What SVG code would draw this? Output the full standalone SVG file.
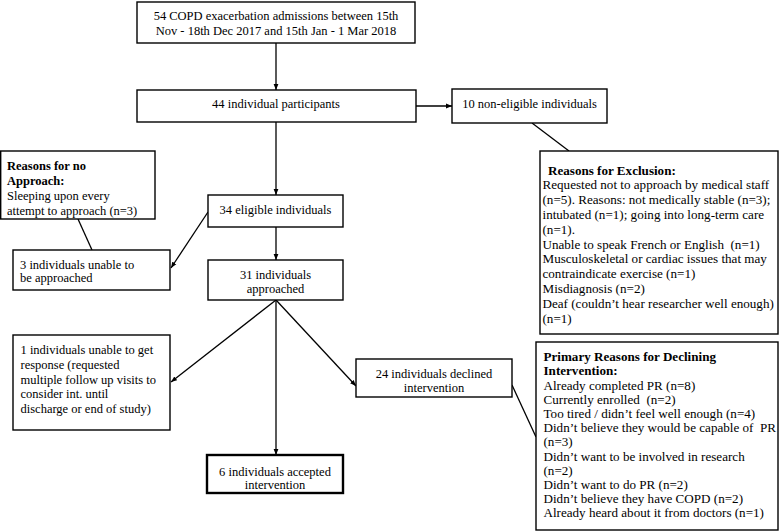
<svg xmlns="http://www.w3.org/2000/svg" width="780" height="531" viewBox="0 0 780 531">
<defs>
<marker id="ah" viewBox="0 0 10 10" refX="10" refY="5" markerWidth="6" markerHeight="6" markerUnits="userSpaceOnUse" orient="auto">
<path d="M0,1 L10,5 L0,9 z" fill="#000"/>
</marker>
</defs>
<style>
.box{fill:#fff;stroke:#000;stroke-width:1.4}
.thick{stroke-width:2.4}
.t{font-family:"Liberation Serif","Times New Roman",serif;font-size:12.5px;fill:#000}
.r{font-family:"Liberation Serif","Times New Roman",serif;font-size:13.1px;fill:#000}
.c{text-anchor:middle}
.b{font-weight:bold}
.ln{stroke:#000;stroke-width:1.3;fill:none}
.ar{marker-end:url(#ah)}
</style>
<rect width="780" height="531" fill="#fff"/>
<g id="connectors">
<line class="ln ar" x1="276" y1="43" x2="276" y2="90"/>
<line class="ln ar" x1="416" y1="106" x2="452" y2="106"/>
<line class="ln ar" x1="276" y1="122" x2="276" y2="195"/>
<line class="ln" x1="532" y1="123" x2="569" y2="151"/>
<line class="ln ar" x1="276" y1="227" x2="276" y2="260"/>
<line class="ln ar" x1="208" y1="212" x2="171" y2="268"/>
<line class="ln" x1="78" y1="219" x2="92" y2="250"/>
<line class="ln ar" x1="276" y1="300" x2="171" y2="382"/>
<line class="ln ar" x1="276" y1="300" x2="276" y2="455"/>
<line class="ln ar" x1="276" y1="300" x2="356" y2="386"/>
<line class="ln" x1="512" y1="385" x2="536" y2="437"/>
</g>
<g id="n-admissions">
<rect class="box" x="137" y="2" width="278" height="41"/>
<text class="t c" x="276" y="20.3">54 COPD exacerbation admissions between 15th</text>
<text class="t c" x="276" y="35">Nov - 18th Dec 2017 and 15th Jan - 1 Mar 2018</text>
</g>
<g id="n-participants">
<rect class="box" x="137" y="90" width="279" height="32"/>
<text class="t c" x="276" y="107.6">44 individual participants</text>
</g>
<g id="n-noneligible">
<rect class="box" x="452" y="89" width="155" height="34"/>
<text class="t c" x="529.5" y="107.6">10 non-eligible individuals</text>
</g>
<g id="n-exclusion">
<rect class="box" x="540" y="151" width="238" height="183"/>
<text class="r b" x="548" y="174.5">Reasons for Exclusion:</text>
<text class="r" x="542.5" y="189.3">Requested not to approach by medical staff</text>
<text class="r" x="542.5" y="204.1">(n=5). Reasons: not medically stable (n=3);</text>
<text class="r" x="542.5" y="218.9">intubated (n=1); going into long-term care</text>
<text class="r" x="542.5" y="233.7">(n=1).</text>
<text class="r" x="542.5" y="248.5" xml:space="preserve">Unable to speak French or English  (n=1)</text>
<text class="r" x="542.5" y="263.3">Musculoskeletal or cardiac issues that may</text>
<text class="r" x="542.5" y="278.1">contraindicate exercise (n=1)</text>
<text class="r" x="542.5" y="292.9">Misdiagnosis (n=2)</text>
<text class="r" x="542.5" y="307.7">Deaf (couldn’t hear researcher well enough)</text>
<text class="r" x="542.5" y="322.5">(n=1)</text>
</g>
<g id="n-noapproach-reasons">
<rect class="box" x="0.7" y="151" width="154.3" height="68"/>
<text class="t b" x="7" y="170.3">Reasons for no</text>
<text class="t b" x="7" y="185">Approach:</text>
<text class="t" x="7" y="200.3">Sleeping upon every</text>
<text class="t" x="7" y="215.3">attempt to approach (n=3)</text>
</g>
<g id="n-eligible">
<rect class="box" x="208" y="195" width="135" height="32"/>
<text class="t c" x="275.5" y="214.3">34 eligible individuals</text>
</g>
<g id="n-unable-approach">
<rect class="box" x="13" y="250" width="157" height="40"/>
<text class="t" x="20" y="269.3">3 individuals unable to</text>
<text class="t" x="20" y="282">be approached</text>
</g>
<g id="n-approached">
<rect class="box" x="208" y="260" width="135" height="40"/>
<text class="t c" x="275.5" y="279.3">31 individuals</text>
<text class="t c" x="275.5" y="292.6">approached</text>
</g>
<g id="n-noresponse">
<rect class="box" x="13" y="335" width="157" height="95"/>
<text class="t" x="20.5" y="354.3">1 individuals unable to get</text>
<text class="t" x="20.5" y="369.3">response (requested</text>
<text class="t" x="20.5" y="384.3">multiple follow up visits to</text>
<text class="t" x="20.5" y="398.3">consider int. until</text>
<text class="t" x="20.5" y="412.6">discharge or end of study)</text>
</g>
<g id="n-declined">
<rect class="box" x="356" y="359" width="156" height="38"/>
<text class="t c" x="434" y="377.6">24 individuals declined</text>
<text class="t c" x="434" y="391.6">intervention</text>
</g>
<g id="n-accepted">
<rect class="box thick" x="207" y="455" width="136" height="38"/>
<text class="t c" x="275" y="476">6 individuals accepted</text>
<text class="t c" x="275" y="489.3">intervention</text>
</g>
<g id="n-declining-reasons">
<rect class="box" x="536" y="342" width="242" height="188"/>
<text class="r b" x="543.5" y="361.2">Primary Reasons for Declining</text>
<text class="r b" x="543.5" y="375.4">Intervention:</text>
<text class="r" x="543.5" y="389.6">Already completed PR (n=8)</text>
<text class="r" x="543.5" y="403.8" xml:space="preserve">Currently enrolled  (n=2)</text>
<text class="r" x="543.5" y="418">Too tired / didn’t feel well enough (n=4)</text>
<text class="r" x="543.5" y="432.2" xml:space="preserve">Didn’t believe they would be capable of  PR</text>
<text class="r" x="543.5" y="446.4">(n=3)</text>
<text class="r" x="543.5" y="460.6">Didn’t want to be involved in research</text>
<text class="r" x="543.5" y="474.8">(n=2)</text>
<text class="r" x="543.5" y="489">Didn’t want to do PR (n=2)</text>
<text class="r" x="543.5" y="503.2">Didn’t believe they have COPD (n=2)</text>
<text class="r" x="543.5" y="517.4">Already heard about it from doctors (n=1)</text>
</g>
</svg>
